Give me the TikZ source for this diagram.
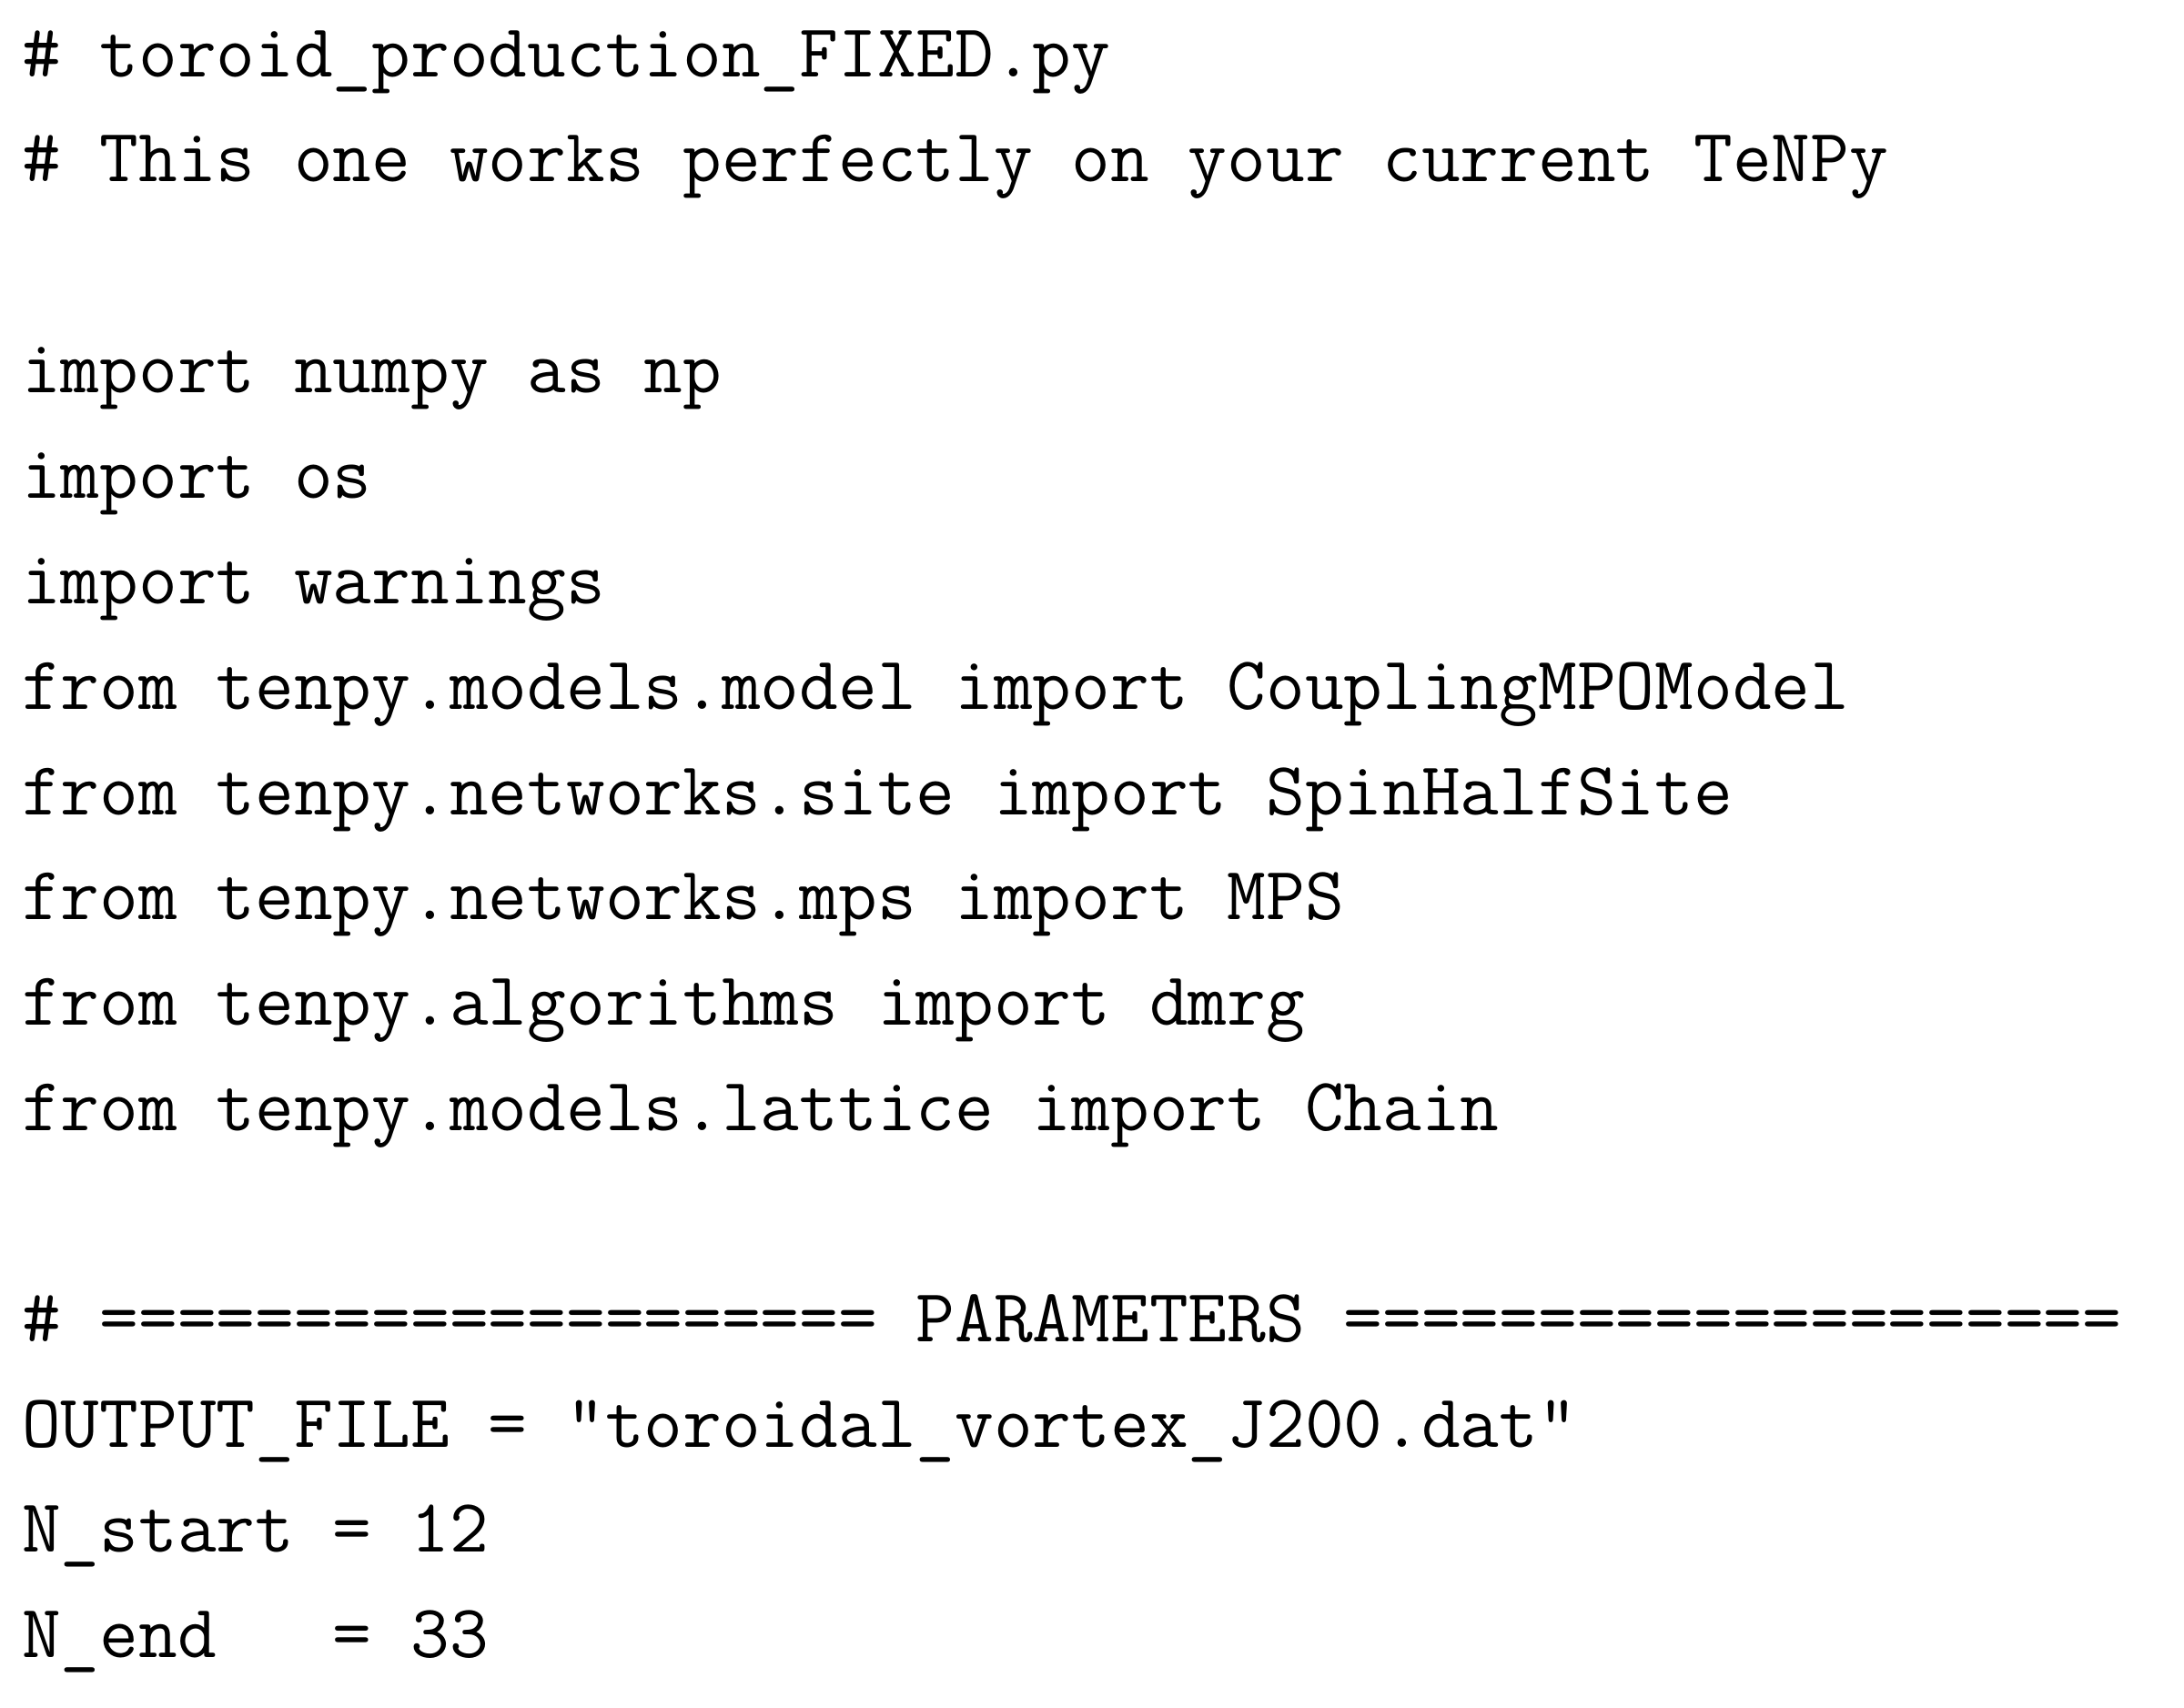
\documentclass[tikz,border=0pt]{standalone}
\begin{document}
\begin{tikzpicture}[x=1pt,y=1pt,
  ln/.style={anchor=base west,inner sep=0pt,font=\fontsize{13.55}{16}\ttfamily}]
\useasboundingbox (0,0) rectangle (392,-306.5);
\def\L#1#2{\node[ln] (l#1) at (3.75,{-13.75-18.92*#1}) {#2};}
\L{0}{\#\ toroid\_production\_FIXED.py}
\L{1}{\#\ This\ one\ works\ perfectly\ on\ your\ current\ TeNPy}
\L{3}{import\ numpy\ as\ np}
\L{4}{import\ os}
\L{5}{import\ warnings}
\L{6}{from\ tenpy.models.model\ import\ CouplingMPOModel}
\L{7}{from\ tenpy.networks.site\ import\ SpinHalfSite}
\L{8}{from\ tenpy.networks.mps\ import\ MPS}
\L{9}{from\ tenpy.algorithms\ import\ dmrg}
\L{10}{from\ tenpy.models.lattice\ import\ Chain}
\L{12}{\#\ ====================\ PARAMETERS\ ====================}
\L{13}{OUTPUT\_FILE\ =\ "toroidal\_vortex\_J200.dat"}
\L{14}{N\_start\ =\ 12}
\L{15}{N\_end\ \ \ =\ 33}
\end{tikzpicture}
\end{document}
